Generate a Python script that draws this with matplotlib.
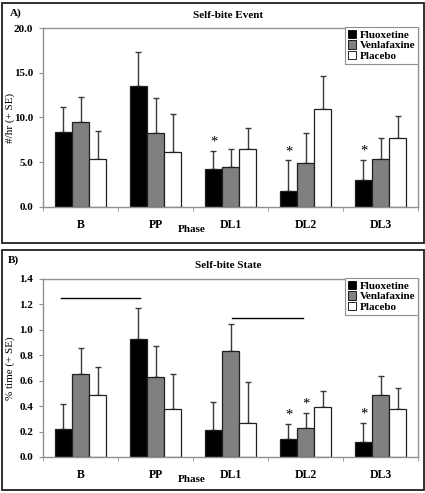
import matplotlib
matplotlib.use('Agg')
from matplotlib import pyplot as plt
from matplotlib.patches import Rectangle
import numpy as np

phases = ["B", "PP", "DL1", "DL2", "DL3"]
groups = ["Fluoxetine", "Venlafaxine", "Placebo"]

# A) Self-bite Event, #/hr
flu_a = [8.4, 13.5, 4.3, 1.8, 3.0]
ven_a = [9.5, 8.3, 4.5, 4.9, 5.4]
pla_a = [5.4, 6.2, 6.5, 10.9, 7.7]
flu_a_se = [2.8, 3.8, 2.0, 3.4, 2.3]
ven_a_se = [2.8, 3.9, 2.0, 3.4, 2.3]
pla_a_se = [3.1, 4.2, 2.3, 3.7, 2.5]
stars_a = [(0, 2), (0, 3), (0, 4)]  # (group index, phase index)

# B) Self-bite State, % time
flu_b = [0.22, 0.93, 0.21, 0.14, 0.12]
ven_b = [0.65, 0.63, 0.83, 0.23, 0.49]
pla_b = [0.49, 0.38, 0.27, 0.39, 0.38]
flu_b_se = [0.20, 0.24, 0.22, 0.12, 0.15]
ven_b_se = [0.21, 0.24, 0.22, 0.12, 0.15]
pla_b_se = [0.22, 0.27, 0.32, 0.13, 0.16]
stars_b = [(0, 3), (1, 3), (0, 4)]
sig_lines_b = [(-0.26, 0.79, 1.25), (2.02, 2.97, 1.09)]

colors = ["black", "#808080", "white"]
serif = "Liberation Serif"
plt.rcParams['font.family'] = serif
plt.rcParams['font.weight'] = 'bold'

W, H = 425, 493
fig = plt.figure(figsize=(W / 100, H / 100), dpi=100)


def panel(top, bottom, means, ses, stars, ymax, ystep, fmt, ylabel, star_off, lines=()):
    ax = fig.add_axes([43 / W, (H - bottom) / H, 375 / W, (bottom - top) / H])
    x = np.arange(len(phases))
    width = 0.227
    for i, (m, s) in enumerate(zip(means, ses)):
        pos = x + (i - 1) * width
        ax.bar(pos, m, width, color=colors[i], edgecolor="#202020", linewidth=0.9,
               label=groups[i], zorder=2)
        ax.errorbar(pos, m, yerr=[np.zeros(len(s)), s], fmt='none', ecolor="#3a3a3a",
                    elinewidth=1.0, capsize=2.5, capthick=1.0, zorder=1)
    for gi, pi in stars:
        top_val = means[gi][pi] + ses[gi][pi]
        ax.text(x[pi] + (gi - 1) * width, top_val + star_off, "*", ha='center', va='bottom',
                fontsize=10.5, fontweight='normal')
    for x0, x1, yy in lines:
        ax.plot([x0, x1], [yy, yy], color='black', lw=1.0)
    ax.set_xlim(-0.5, len(phases) - 0.5)
    ax.set_ylim(0, ymax)
    yt = np.arange(0, ymax + ystep / 2, ystep)
    ax.set_yticks(yt)
    ax.set_yticklabels([fmt % v for v in yt], fontsize=8)
    ax.set_xticks(x)
    ax.set_xticklabels(phases, fontsize=8.5)
    ax.tick_params(axis='x', length=0, pad=9)
    ax.set_xticks(np.arange(-0.5, len(phases)), minor=True)
    ax.tick_params(axis='x', which='minor', length=3, color='#909090')
    ax.tick_params(axis='y', length=3, color='#909090', pad=4)
    for sp in ax.spines.values():
        sp.set_color('#909090')
        sp.set_linewidth(1.0)
    ax.text(0.397, -23 / (bottom - top), "Phase", transform=ax.transAxes, ha='center',
            va='center', fontsize=8)
    ax.set_ylabel(ylabel, fontsize=8)
    ax.yaxis.set_label_coords(-28 / 375, 0.5)
    leg = ax.legend(loc='upper right', bbox_to_anchor=(1.0, 1.005), borderaxespad=0,
                    fontsize=8, fancybox=False, framealpha=1, edgecolor='#909090',
                    handlelength=0.75, handleheight=0.75, handletextpad=0.3,
                    labelspacing=0.05, borderpad=0.25)
    leg.get_frame().set_linewidth(0.8)
    for h in leg.legend_handles:
        h.set_edgecolor('black')
        h.set_linewidth(0.6)
    return ax


panel(28, 207, [flu_a, ven_a, pla_a], [flu_a_se, ven_a_se, pla_a_se], stars_a,
      20, 5, "%.1f", "#/hr (+ SE)", 0.2)
panel(279, 457, [flu_b, ven_b, pla_b], [flu_b_se, ven_b_se, pla_b_se], stars_b,
      1.4, 0.2, "%.1f", "% time (+ SE)", 0.015, sig_lines_b)

fig.text(10 / W, 1 - 13 / H, "A)", fontsize=8, ha='left', va='center')
fig.text(228 / W, 1 - 16 / H, "Self-bite Event", fontsize=8, ha='center', va='center')
fig.text(8 / W, 1 - 260 / H, "B)", fontsize=8, ha='left', va='center')
fig.text(228 / W, 1 - 265 / H, "Self-bite State", fontsize=8, ha='center', va='center')

for y0, y1 in [(3, 243), (250, 490)]:
    fig.patches.append(Rectangle((1.5 / W, 1 - y1 / H), 422 / W, (y1 - y0) / H,
                                 transform=fig.transFigure, fill=False,
                                 edgecolor='#202020', linewidth=1.3))

plt.savefig("out.png", dpi=100)
